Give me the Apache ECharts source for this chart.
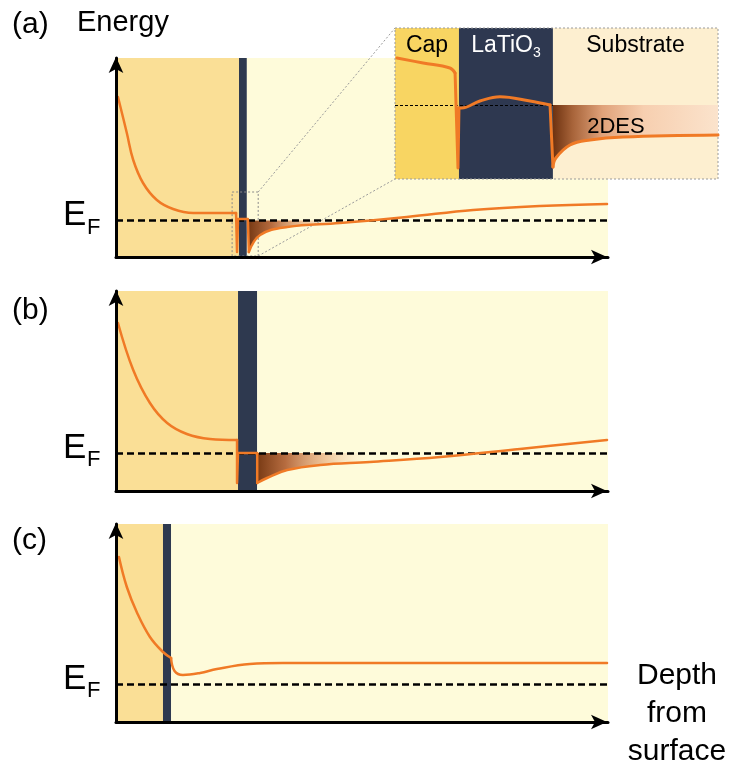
<!DOCTYPE html>
<html>
<head>
<meta charset="utf-8">
<script src="https://cdn.jsdelivr.net/npm/echarts@6/dist/echarts.min.js"></script>
<style>
  html, body { margin: 0; padding: 0; background: #fff; }
  #chart { width: 737px; height: 769px; }
</style>
</head>
<body>
<div id="chart"></div>
<script>
// Conduction-band edge versus depth for three capped LaTiO3 heterostructures.
// Depth runs 0–100 (arbitrary units) across each panel; energy is relative to E_F.

// Layer boundaries: [end of cap, end of LaTiO3]
const layersA = [25.0, 26.6];
const layersB = [24.8, 28.7];
const layersC = [9.55, 11.2];

// Panel (a): band edge in the cap, the steps at the LaTiO3 layer, and the substrate
const aCap  = [[0.4, 1.235], [2.2, 0.875], [3.5, 0.605], [5.5, 0.375], [8.3, 0.205], [11.6, 0.115], [15.7, 0.075], [24.4, 0.075]];
const aStep = [[24.4, 0.075], [24.6, -0.315], [24.8, 0.015], [26.8, 0.015], [27.0, -0.315]];
const aSub  = [[27.0, -0.315], [29.3, -0.145], [34.8, -0.065], [45.5, -0.025], [59.1, 0.035], [72.6, 0.105], [86.2, 0.145], [99.8, 0.165]];
const a2DES = [[27.0, -0.315], [29.3, -0.145], [34.8, -0.065], [45.5, -0.025]];

// Panel (b)
const bCap  = [[0.4, 1.30], [3.5, 0.83], [6.9, 0.50], [10.4, 0.30], [14.4, 0.19], [19.1, 0.14], [24.6, 0.13]];
const bStep = [[24.6, 0.13], [24.6, -0.30], [24.8, 0.0], [28.7, 0.0], [28.7, -0.30]];
const bSub  = [[28.7, -0.30], [30.7, -0.25], [34.8, -0.17], [41.5, -0.12], [51.6, -0.09], [65.9, -0.04], [82.1, 0.04], [99.8, 0.13]];
const b2DES = [[28.7, -0.30], [30.7, -0.25], [34.8, -0.17], [41.5, -0.12], [51.6, -0.09]];

// Panel (c)
const cCap = [[0.6, 1.27], [2.2, 0.97], [4.3, 0.71], [6.9, 0.47], [9.55, 0.32], [11.2, 0.26]];
const cSub = [[11.2, 0.26], [11.9, 0.13], [13.6, 0.09], [17.1, 0.11], [20.5, 0.15], [27.2, 0.20], [33.9, 0.21], [99.8, 0.21]];

// Close-up of the LaTiO3 region in (a): depth 0–100 across the close-up
const zoomLayers = [19.8, 48.9];
const zCap   = [[0.6, 0.47], [8.7, 0.42], [17.0, 0.37], [18.6, 0.32]];
const zStep1 = [[18.6, 0.32], [19.5, -0.63], [19.8, -0.03]];
const zDome  = [[19.8, -0.03], [20.6, -0.03], [26.3, 0.04], [32.5, 0.083], [41.8, 0.04], [48.0, 0.0]];
const zStep2 = [[48.0, 0.0], [48.9, -0.62]];
const zSub   = [[48.9, -0.62], [49.8, -0.53], [54.2, -0.40], [60.4, -0.35], [70.6, -0.32], [100, -0.30]];

// Region of (a) that the close-up magnifies
const zoomBoxX = [23.6, 28.9];
const zoomBoxY = [-0.355, 0.285];

// Energy ranges of each panel
const yRangeA = [-0.365, 1.625];
const yRangeB = [-0.38, 1.62];
const yRangeC = [-0.38, 1.60];
const yRangeZ = [-0.74, 0.77];

const FONT = '"Liberation Sans", Arial, Helvetica, sans-serif';
const ORANGE = '#F07A26';
const CAP = '#FADF96', LTO = '#2E394F', SUB = '#FEFBDA';
const ZCAP = '#F8D562', ZLTO = '#2E3850', ZSUB = '#FDEFD0';

const chart = echarts.init(document.getElementById('chart'));

// The arrow symbol's tip sits on the axis end, so only a small pull-back is needed
function axisLineStyle(endOffset) {
  return { show: true, onZero: false, symbol: ['none', 'arrow'], symbolSize: [11, 16], symbolOffset: [0, endOffset],
    lineStyle: { color: '#000', width: 3 } };
}
function mainXAxis(gi) {
  return {
    type: 'value', gridIndex: gi, min: 0, max: 100, z: 20,
    axisLine: axisLineStyle(-1),
    axisTick: { show: false }, axisLabel: { show: false }, splitLine: { show: false }
  };
}
function mainYAxis(gi, range) {
  return {
    type: 'value', gridIndex: gi, min: range[0], max: range[1], z: 20,
    axisLine: axisLineStyle(1),
    axisTick: { show: false }, axisLabel: { show: false }, splitLine: { show: false }
  };
}

function layerSeries(gi, layers, colors, z) {
  return {
    type: 'line', xAxisIndex: gi, yAxisIndex: gi, data: [], silent: true, z: z,
    markArea: {
      silent: true, label: { show: false },
      data: [
        [{ xAxis: 0, itemStyle: { color: colors[0] } }, { xAxis: layers[0] }],
        [{ xAxis: layers[0], itemStyle: { color: colors[1] } }, { xAxis: layers[1] }],
        [{ xAxis: layers[1], itemStyle: { color: colors[2] } }, { xAxis: 100 }]
      ]
    }
  };
}
function fermiSeries(gi, width, dash, z) {
  return {
    type: 'line', xAxisIndex: gi, yAxisIndex: gi, data: [], silent: true, z: z,
    markLine: {
      silent: true, symbol: 'none', label: { show: false },
      lineStyle: { color: '#000', width: width, type: dash },
      data: [{ yAxis: 0 }]
    }
  };
}
function bandSeries(gi, data, smooth, width, z) {
  return {
    type: 'line', xAxisIndex: gi, yAxisIndex: gi, data: data, symbol: 'none', silent: true,
    smooth: smooth ? 0.4 : false,
    lineStyle: { color: ORANGE, width: width, cap: 'round', join: 'round' }, z: z
  };
}
function gasSeries(gi, data, stops, z) {
  return {
    type: 'line', xAxisIndex: gi, yAxisIndex: gi, data: data, symbol: 'none', silent: true,
    smooth: 0.4,
    lineStyle: { width: 0, opacity: 0 }, z: z,
    areaStyle: { origin: 'auto', opacity: 1, color: new echarts.graphic.LinearGradient(0, 0, 1, 0, stops) }
  };
}

const gasStopsMain = [
  { offset: 0, color: 'rgba(120,58,20,1)' },
  { offset: 0.25, color: 'rgba(178,100,55,0.95)' },
  { offset: 0.6, color: 'rgba(228,160,110,0.6)' },
  { offset: 1, color: 'rgba(250,215,185,0)' }
];
const gasStopsZoom = [
  { offset: 0, color: '#6E3210' },
  { offset: 0.12, color: '#A8643A' },
  { offset: 0.3, color: '#E0A27A' },
  { offset: 0.55, color: '#F7CFB0' },
  { offset: 1, color: '#FBE3CC' }
];

const option = {
  animation: false,
  grid: [
    { left: 116, top: 58, width: 492, height: 199 },
    { left: 116, top: 291, width: 492, height: 200 },
    { left: 116, top: 524, width: 492, height: 198 },
    { left: 395, top: 28, width: 323, height: 151 }
  ],
  xAxis: [
    mainXAxis(0), mainXAxis(1), mainXAxis(2),
    { type: 'value', gridIndex: 3, min: 0, max: 100, show: false }
  ],
  yAxis: [
    mainYAxis(0, yRangeA), mainYAxis(1, yRangeB), mainYAxis(2, yRangeC),
    { type: 'value', gridIndex: 3, min: yRangeZ[0], max: yRangeZ[1], show: false }
  ],
  series: [
    // (a)
    layerSeries(0, layersA, [CAP, LTO, SUB], 1),
    gasSeries(0, a2DES, gasStopsMain, 3),
    fermiSeries(0, 2.5, [7, 4], 4),
    bandSeries(0, aCap, true, 2.5, 6),
    bandSeries(0, aStep, false, 2.5, 6),
    bandSeries(0, aSub, true, 2.5, 6),
    {
      type: 'line', xAxisIndex: 0, yAxisIndex: 0, data: [], silent: true, z: 7,
      markArea: {
        silent: true, label: { show: false },
        itemStyle: { color: 'rgba(0,0,0,0)', borderColor: '#8a8a8a', borderWidth: 1, borderType: [2, 2] },
        data: [[{ xAxis: zoomBoxX[0], yAxis: zoomBoxY[1] }, { xAxis: zoomBoxX[1], yAxis: zoomBoxY[0] }]]
      }
    },
    // (b)
    layerSeries(1, layersB, [CAP, LTO, SUB], 1),
    gasSeries(1, b2DES, gasStopsMain, 3),
    fermiSeries(1, 2.5, [7, 4], 4),
    bandSeries(1, bCap, true, 2.5, 6),
    bandSeries(1, bStep, false, 2.5, 6),
    bandSeries(1, bSub, true, 2.5, 6),
    // (c)
    layerSeries(2, layersC, [CAP, LTO, SUB], 1),
    fermiSeries(2, 2.5, [7, 4], 4),
    bandSeries(2, cCap, true, 2.5, 6),
    bandSeries(2, cSub, true, 2.5, 6),
    // close-up
    layerSeries(3, zoomLayers, [ZCAP, ZLTO, ZSUB], 10),
    gasSeries(3, zSub, gasStopsZoom, 11),
    fermiSeries(3, 1.2, [3, 2], 12),
    bandSeries(3, zCap, true, 3, 13),
    bandSeries(3, zStep1, false, 3, 13),
    bandSeries(3, zDome, true, 3, 13),
    bandSeries(3, zStep2, false, 3, 13),
    bandSeries(3, zSub, true, 3, 13),
    {
      type: 'line', xAxisIndex: 3, yAxisIndex: 3, data: [], silent: true, z: 14,
      markArea: {
        silent: true, label: { show: false },
        itemStyle: { color: 'rgba(0,0,0,0)', borderColor: '#9a9a9a', borderWidth: 1, borderType: [2, 2] },
        data: [[{ xAxis: 0, yAxis: yRangeZ[1] }, { xAxis: 100, yAxis: yRangeZ[0] }]]
      }
    }
  ]
};
chart.setOption(option);

// Text and connector decorations placed from the axes' own scales
const measureCtx = document.createElement('canvas').getContext('2d');
function textWidth(str, size) {
  measureCtx.font = size + 'px ' + FONT;
  return measureCtx.measureText(str).width;
}
function txt(str, x, y, size, color, align) {
  return {
    type: 'text', x: x, y: y, z: 200, silent: true,
    style: { text: str, font: size + 'px ' + FONT, fill: color || '#000',
      align: align || 'left', verticalAlign: 'middle', textAlign: align || 'left', textVerticalAlign: 'middle' }
  };
}

const graphics = [];
graphics.push(txt('(a)', 12, 25, 30));
graphics.push(txt('Energy', 77, 23, 29));
graphics.push(txt('(b)', 12, 311, 30));
graphics.push(txt('(c)', 12, 541, 30));

[0, 1, 2].forEach(function (gi) {
  const ef = chart.convertToPixel({ gridIndex: gi }, [0, 0])[1];
  graphics.push(txt('E', 63, ef - 5, 35));
  graphics.push(txt('F', 87, ef + 7, 22));
});

['Depth', 'from', 'surface'].forEach(function (line, i) {
  graphics.push(txt(line, 677, 676 + i * 38, 30, '#000', 'center'));
});

// Layer names in the close-up
const labelE = 0.59;
const capMid = chart.convertToPixel({ gridIndex: 3 }, [zoomLayers[0] / 2, labelE]);
const ltoMid = chart.convertToPixel({ gridIndex: 3 }, [(zoomLayers[0] + zoomLayers[1]) / 2, labelE]);
const subMid = chart.convertToPixel({ gridIndex: 3 }, [(zoomLayers[1] + 100) / 2, labelE]);
graphics.push(txt('Cap', capMid[0], capMid[1], 23, '#000', 'center'));
const wMain = textWidth('LaTiO', 23), wSub = textWidth('3', 14);
const ltoLeft = ltoMid[0] - (wMain + wSub) / 2;
graphics.push(txt('LaTiO', ltoLeft, ltoMid[1], 23, '#fff', 'left'));
graphics.push(txt('3', ltoLeft + wMain, ltoMid[1] + 7, 14, '#fff', 'left'));
graphics.push(txt('Substrate', subMid[0], subMid[1], 23, '#000', 'center'));
const gasLabel = chart.convertToPixel({ gridIndex: 3 }, [68.4, -0.22]);
graphics.push(txt('2DES', gasLabel[0], gasLabel[1], 22, '#000', 'center'));

// Dotted connectors from the magnified box in (a) to the close-up
const boxTop = chart.convertToPixel({ gridIndex: 0 }, [zoomBoxX[1], zoomBoxY[1]]);
const boxBot = chart.convertToPixel({ gridIndex: 0 }, [zoomBoxX[1], zoomBoxY[0]]);
const zTop = chart.convertToPixel({ gridIndex: 3 }, [0, yRangeZ[1]]);
const zBot = chart.convertToPixel({ gridIndex: 3 }, [0, yRangeZ[0]]);
[[boxTop, zTop], [boxBot, zBot]].forEach(function (pair) {
  graphics.push({
    type: 'line', z: 5, silent: true,
    shape: { x1: pair[0][0], y1: pair[0][1], x2: pair[1][0], y2: pair[1][1] },
    style: { stroke: '#9a9a9a', lineWidth: 1, lineDash: [2, 2] }
  });
});

chart.setOption({ graphic: graphics });
</script>
</body>
</html>
